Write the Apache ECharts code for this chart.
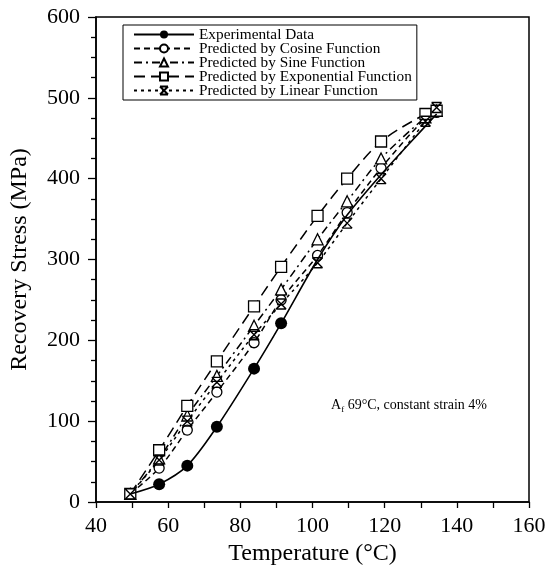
<!DOCTYPE html>
<html>
<head>
<meta charset="utf-8">
<script src="https://cdn.jsdelivr.net/npm/echarts@6/dist/echarts.min.js"></script>
<style>html,body{margin:0;padding:0;background:#fff}#c{width:549px;height:571px}</style>
</head>
<body>
<div id="c"></div>
<script>
const temps = [49.5, 57.5, 65.3, 73.5, 83.8, 91.3, 101.4, 109.6, 119.0, 131.3, 134.4];
const experimental = [10, 22, 45, 93, 165, 221, 300, 355, 405, 465, 480];
const cosine = [10, 42, 89, 136, 197, 250, 305, 358, 413, 475, 482];
const sine = [10, 54, 107, 156, 218, 263, 325, 372, 425, 476, 484];
const exponential = [10, 64, 119, 174, 242, 291, 354, 400, 446, 480, 484];
const linear = [10, 52, 100, 148, 207, 245, 296, 345, 400, 471, 488];
const expMarked = [false, true, true, true, true, true, false, false, false, false, false];
const seriesNames = ['Experimental Data', 'Predicted by Cosine Function', 'Predicted by Sine Function', 'Predicted by Exponential Function', 'Predicted by Linear Function'];
const xTicks = {min: 40, max: 160, step: 20};
const yTicks = {min: 0, max: 600, step: 100};

const FONT = '"Liberation Serif", "Times New Roman", serif';
const starPath = 'path://M0,0L10,0M0,10L10,10M0,0L10,10M10,0L0,10';

function pairs(vals, marks) {
  return temps.map((t, i) => {
    const d = {value: [t, vals[i]]};
    if (marks && !marks[i]) d.symbol = 'none';
    return d;
  });
}
const openStyle = {color: '#fff', borderColor: '#000', borderWidth: 1.3};

const chart = echarts.init(document.getElementById('c'));
chart.setOption({
  backgroundColor: '#fff',
  animation: false,
  grid: {left: 95, right: 20, top: 17, bottom: 68, show: true, borderColor: '#000', borderWidth: 1.5},
  legend: {
    data: seriesNames,
    left: 123, top: 25, orient: 'vertical',
    borderColor: '#000', borderWidth: 1, padding: [2, 5, 2, 10],
    itemWidth: 60, itemHeight: 10, itemGap: -1,
    textStyle: {fontFamily: FONT, fontSize: 15.3, color: '#000'}
  },
  xAxis: {
    type: 'value', min: xTicks.min, max: xTicks.max, interval: xTicks.step,
    name: 'Temperature (°C)', nameLocation: 'middle', nameGap: 40,
    nameTextStyle: {fontFamily: FONT, fontSize: 24, color: '#000'},
    axisLine: {lineStyle: {color: '#000', width: 1.5}},
    axisTick: {length: 6, lineStyle: {color: '#000', width: 1.3}},
    minorTick: {show: true, splitNumber: 2, length: 6, lineStyle: {color: '#000', width: 1.3}},
    axisLabel: {fontFamily: FONT, fontSize: 22, color: '#000', margin: 13},
    splitLine: {show: false}
  },
  yAxis: {
    type: 'value', min: yTicks.min, max: yTicks.max, interval: yTicks.step,
    name: 'Recovery Stress (MPa)', nameLocation: 'middle', nameGap: 64,
    nameTextStyle: {fontFamily: FONT, fontSize: 24, color: '#000'},
    axisLine: {lineStyle: {color: '#000', width: 1.5}},
    axisTick: {length: 8, lineStyle: {color: '#000', width: 1.3}},
    minorTick: {show: true, splitNumber: 4, length: 5, lineStyle: {color: '#000', width: 1.3}},
    axisLabel: {fontFamily: FONT, fontSize: 22, color: '#000', margin: 16},
    splitLine: {show: false}
  },
  series: [
    {name: seriesNames[1], type: 'line', smooth: 0.3, data: pairs(cosine),
     symbol: 'circle', symbolSize: 10, itemStyle: openStyle,
     lineStyle: {color: '#000', width: 1.5, type: [6, 4]}},
    {name: seriesNames[2], type: 'line', smooth: 0.3, data: pairs(sine),
     symbol: 'triangle', symbolSize: 11, itemStyle: openStyle,
     lineStyle: {color: '#000', width: 1.5, type: [8, 4, 2, 4]}},
    {name: seriesNames[3], type: 'line', smooth: 0.3, data: pairs(exponential),
     symbol: 'rect', symbolSize: 11, itemStyle: openStyle,
     lineStyle: {color: '#000', width: 1.5, type: [11, 6]}},
    {name: seriesNames[4], type: 'line', smooth: 0.3, data: pairs(linear),
     symbol: starPath, symbolSize: 10, itemStyle: {color: 'none', borderColor: '#000', borderWidth: 1.4},
     lineStyle: {color: '#000', width: 1.5, type: [3, 4]}},
    {name: seriesNames[0], type: 'line', smooth: 0.3, data: pairs(experimental, expMarked),
     symbol: 'circle', symbolSize: 12, itemStyle: {color: '#000'},
     lineStyle: {color: '#000', width: 1.6, type: 'solid'}, z: 5}
  ],
  graphic: [{
    type: 'text', right: 549 - 487, top: 398,
    style: {
      text: '{a|A}{s|f}{a| 69°C, constant strain 4%}',
      rich: {
        a: {fontFamily: FONT, fontSize: 14, fill: '#000', lineHeight: 18, verticalAlign: 'middle'},
        s: {fontFamily: FONT, fontSize: 9, fill: '#000', lineHeight: 18, verticalAlign: 'bottom'}
      }
    }
  }]
});
</script>
</body>
</html>
